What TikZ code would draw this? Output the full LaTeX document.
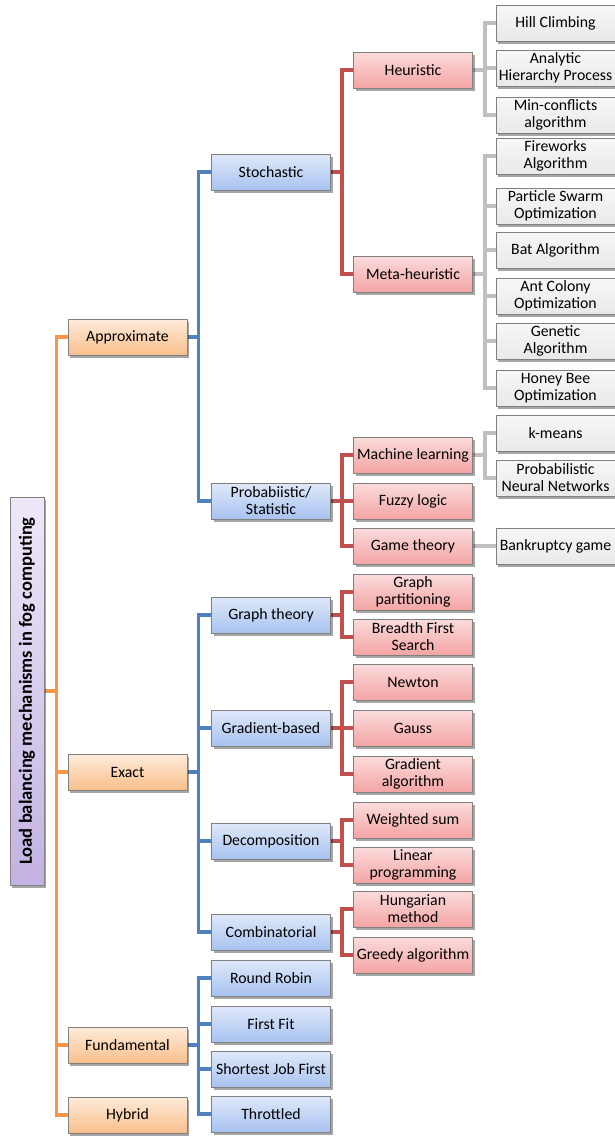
\documentclass[tikz,border=0pt]{standalone}
\usepackage{fontspec}
\setmainfont{Carlito}
\usetikzlibrary{shadows}
\usetikzlibrary{backgrounds}

\definecolor{orTop}{HTML}{FEEBDA}
\definecolor{orBot}{HTML}{F9BF8C}
\definecolor{blTop}{HTML}{DFE8F9}
\definecolor{blBot}{HTML}{A8C3F0}
\definecolor{rdTop}{HTML}{FBDCDC}
\definecolor{rdBot}{HTML}{F4A4A4}
\definecolor{gyTop}{HTML}{F7F7F7}
\definecolor{gyBot}{HTML}{E9E9E9}
\definecolor{puTop}{HTML}{EEE8F8}
\definecolor{puBot}{HTML}{C3B2E2}
\definecolor{orLine}{HTML}{F79646}
\definecolor{blLine}{HTML}{4F81BD}
\definecolor{rdLine}{HTML}{C0504D}
\definecolor{gyLine}{HTML}{BFBFBF}

\tikzset{
  box/.style={draw=black!50, line width=0.8pt, minimum width=119pt, minimum height=36pt,
    inner sep=1pt, align=center, font=\fontsize{15.8}{17}\selectfont,
    drop shadow={shadow xshift=2pt,shadow yshift=-2.5pt,opacity=0.35,fill=black}},
  orbox/.style={box, top color=orTop, bottom color=orBot},
  blbox/.style={box, top color=blTop, bottom color=blBot},
  rdbox/.style={box, top color=rdTop, bottom color=rdBot},
  gybox/.style={box, top color=gyTop, bottom color=gyBot},
  orline/.style={line width=3.4pt, color=orLine},
  blline/.style={line width=3.4pt, color=blLine},
  rdline/.style={line width=3.4pt, color=rdLine},
  gyline/.style={line width=3.4pt, color=gyLine},
}

\begin{document}
\begin{tikzpicture}[line cap=butt,line join=round,x=1pt,y=-1pt]
\useasboundingbox (0,0) rectangle (614,1136);

% root
\node[box, top color=puTop, bottom color=puBot, minimum width=388pt, minimum height=34pt,
  rotate=90, font=\fontsize{18.5}{20}\selectfont\bfseries] (root) at (27,691)
  {Load balancing mechanisms in fog computing};

% first level
\node[orbox] (appr) at (127.5,337) {Approximate};
\node[orbox] (exact) at (127.5,772) {Exact};
\node[orbox] (fund) at (127.5,1045) {Fundamental};
\node[orbox] (hybr) at (127.5,1115) {Hybrid};

% second level
\node[blbox] (stoch) at (271,172) {Stochastic};
\node[blbox] (prob) at (271,501) {Probabiistic/\\Statistic};
\node[blbox] (graph) at (271,615) {Graph theory};
\node[blbox] (grad) at (271,728) {Gradient-based};
\node[blbox] (decomp) at (271,841) {Decomposition};
\node[blbox] (comb) at (271,932) {Combinatorial};
\node[blbox] (rr) at (271,978) {Round Robin};
\node[blbox] (ff) at (271,1024) {First Fit};
\node[blbox] (sjf) at (271,1069) {Shortest Job First};
\node[blbox] (thr) at (271,1114) {Throttled};

% third level
\node[rdbox] (heur) at (413,70) {Heuristic};
\node[rdbox] (meta) at (413,274) {Meta-heuristic};
\node[rdbox] (ml) at (413,455) {Machine learning};
\node[rdbox] (fuzzy) at (413,501) {Fuzzy logic};
\node[rdbox] (game) at (413,546) {Game theory};
\node[rdbox] (gpart) at (413,592) {Graph\\partitioning};
\node[rdbox] (bfs) at (413,637) {Breadth First\\Search};
\node[rdbox] (newton) at (413,682) {Newton};
\node[rdbox] (gauss) at (413,728) {Gauss};
\node[rdbox] (gralg) at (413,774) {Gradient\\algorithm};
\node[rdbox] (wsum) at (413,820) {Weighted sum};
\node[rdbox] (lp) at (413,865) {Linear\\programming};
\node[rdbox] (hung) at (413,909) {Hungarian\\method};
\node[rdbox] (greedy) at (413,955) {Greedy algorithm};

% fourth level
\node[gybox] (hill) at (555.5,23) {Hill Climbing};
\node[gybox] (ahp) at (555.5,68) {Analytic\\Hierarchy Process};
\node[gybox] (minc) at (555.5,115) {Min-conflicts\\algorithm};
\node[gybox] (fire) at (555.5,156) {Fireworks\\Algorithm};
\node[gybox] (pso) at (555.5,206) {Particle Swarm\\Optimization};
\node[gybox] (bat) at (555.5,250) {Bat Algorithm};
\node[gybox] (aco) at (555.5,296) {Ant Colony\\Optimization};
\node[gybox] (gen) at (555.5,341) {Genetic\\Algorithm};
\node[gybox] (hbo) at (555.5,388) {Honey Bee\\Optimization};
\node[gybox] (kmeans) at (555.5,433) {k-means};
\node[gybox] (pnn) at (555.5,478) {Probabilistic\\Neural Networks};
\node[gybox] (bank) at (555.5,546) {Bankruptcy game};

\begin{scope}[on background layer]
\draw[orline] (root.south) -- ++(12,0) |- (appr.west);
\draw[orline] (root.south) -- ++(12,0) |- (exact.west);
\draw[orline] (root.south) -- ++(12,0) |- (fund.west);
\draw[orline] (root.south) -- ++(12,0) |- (hybr.west);

\draw[blline] (appr.east) -- ++(11,0) |- (stoch.west);
\draw[blline] (appr.east) -- ++(11,0) |- (prob.west);
\draw[blline] (exact.east) -- ++(11,0) |- (graph.west);
\draw[blline] (exact.east) -- ++(11,0) |- (grad.west);
\draw[blline] (exact.east) -- ++(11,0) |- (decomp.west);
\draw[blline] (exact.east) -- ++(11,0) |- (comb.west);
\draw[blline] (fund.east) -- ++(11,0) |- (rr.west);
\draw[blline] (fund.east) -- ++(11,0) |- (ff.west);
\draw[blline] (fund.east) -- ++(11,0) |- (sjf.west);
\draw[blline] (fund.east) -- ++(11,0) |- (thr.west);

\draw[rdline] (stoch.east) -- ++(11,0) |- (heur.west);
\draw[rdline] (stoch.east) -- ++(11,0) |- (meta.west);
\draw[rdline] (prob.east) -- ++(11,0) |- (ml.west);
\draw[rdline] (prob.east) -- ++(11,0) |- (fuzzy.west);
\draw[rdline] (prob.east) -- ++(11,0) |- (game.west);
\draw[rdline] (graph.east) -- ++(11,0) |- (gpart.west);
\draw[rdline] (graph.east) -- ++(11,0) |- (bfs.west);
\draw[rdline] (grad.east) -- ++(11,0) |- (newton.west);
\draw[rdline] (grad.east) -- ++(11,0) |- (gauss.west);
\draw[rdline] (grad.east) -- ++(11,0) |- (gralg.west);
\draw[rdline] (decomp.east) -- ++(11,0) |- (wsum.west);
\draw[rdline] (decomp.east) -- ++(11,0) |- (lp.west);
\draw[rdline] (comb.east) -- ++(11,0) |- (hung.west);
\draw[rdline] (comb.east) -- ++(11,0) |- (greedy.west);

\draw[gyline] (heur.east) -- ++(12,0) |- (hill.west);
\draw[gyline] (heur.east) -- ++(12,0) |- (ahp.west);
\draw[gyline] (heur.east) -- ++(12,0) |- (minc.west);
\draw[gyline] (meta.east) -- ++(12,0) |- (fire.west);
\draw[gyline] (meta.east) -- ++(12,0) |- (pso.west);
\draw[gyline] (meta.east) -- ++(12,0) |- (bat.west);
\draw[gyline] (meta.east) -- ++(12,0) |- (aco.west);
\draw[gyline] (meta.east) -- ++(12,0) |- (gen.west);
\draw[gyline] (meta.east) -- ++(12,0) |- (hbo.west);
\draw[gyline] (ml.east) -- ++(12,0) |- (kmeans.west);
\draw[gyline] (ml.east) -- ++(12,0) |- (pnn.west);
\draw[gyline] (game.east) -- (bank.west);
\end{scope}
\end{tikzpicture}
\end{document}
